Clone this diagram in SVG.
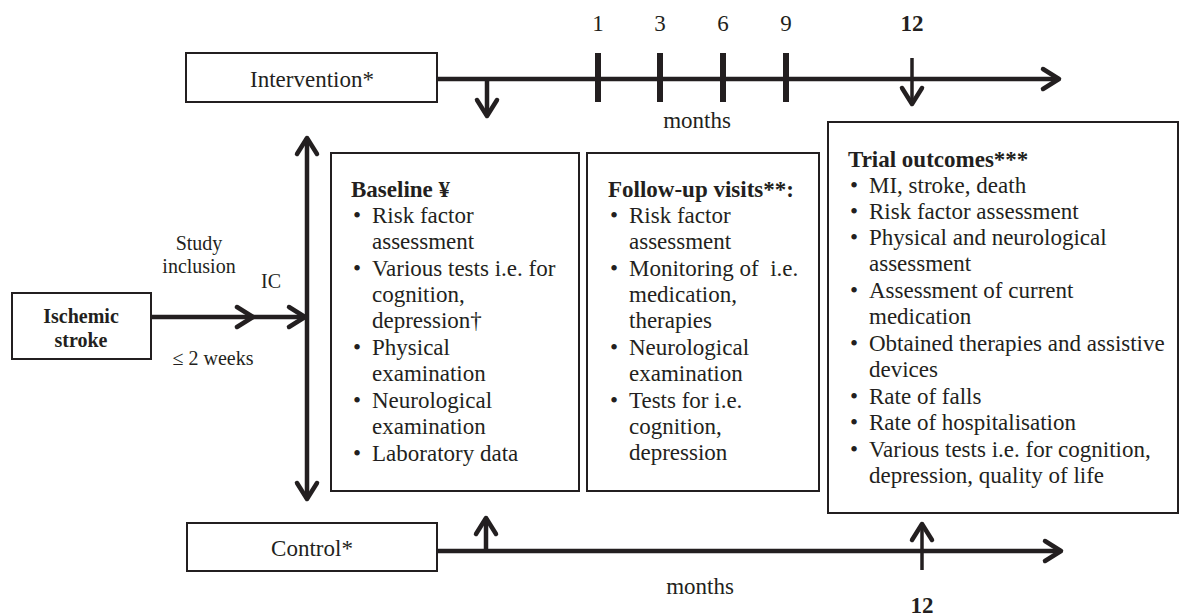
<svg xmlns="http://www.w3.org/2000/svg" width="1182" height="616" viewBox="0 0 1182 616">
<style>
.box{fill:#fff;stroke:#231f20;stroke-width:2}
.t{font-family:"Liberation Serif","Times New Roman",serif;font-size:23px;fill:#231f20}
.s{font-family:"Liberation Serif","Times New Roman",serif;font-size:20px;fill:#231f20}
.b{font-weight:bold}
.m{text-anchor:middle}
.ln{fill:none;stroke:#231f20;stroke-width:4.5}
.thin{fill:none;stroke:#231f20;stroke-width:3.5}
.hd{fill:none;stroke:#231f20;stroke-width:4.5;stroke-linecap:round;stroke-linejoin:round}
.tick{stroke:#231f20;stroke-width:6}
</style>
<rect width="1182" height="616" fill="#fff"/>
<g id="connectors">
  <line class="ln" x1="151" y1="317" x2="306" y2="317"/>
  <polyline class="hd" points="237,307 253,317 237,327"/>
  <polyline class="hd" points="289,307 305,317 289,327"/>
  <line class="ln" x1="307" y1="138" x2="307" y2="499"/>
  <polyline class="hd" points="297,154 307,138 317,154"/>
  <polyline class="hd" points="297,483 307,499 317,483"/>
  <line class="ln" x1="437" y1="79" x2="1059" y2="79"/>
  <polyline class="hd" points="1043,69 1059,79 1043,89"/>
  <line class="ln" x1="487" y1="79" x2="487" y2="116"/>
  <polyline class="hd" points="477,100 487,116 497,100"/>
  <line class="tick" x1="598" y1="53" x2="598" y2="102"/>
  <line class="tick" x1="660" y1="53" x2="660" y2="102"/>
  <line class="tick" x1="723" y1="53" x2="723" y2="102"/>
  <line class="tick" x1="786" y1="53" x2="786" y2="102"/>
  <line class="thin" x1="912" y1="58" x2="912" y2="104"/>
  <polyline class="hd" points="902,88 912,104 922,88"/>
  <line class="ln" x1="437" y1="551" x2="1061" y2="551"/>
  <polyline class="hd" points="1045,541 1061,551 1045,561"/>
  <line class="ln" x1="486" y1="551" x2="486" y2="518"/>
  <polyline class="hd" points="476,534 486,518 496,534"/>
  <line class="thin" x1="922" y1="570" x2="922" y2="524"/>
  <polyline class="hd" points="912,540 922,524 932,540"/>
</g>
<g id="labels">
  <text class="t m" x="598" y="31">1</text>
  <text class="t m" x="660" y="31">3</text>
  <text class="t m" x="723" y="31">6</text>
  <text class="t m" x="786" y="31">9</text>
  <text class="t m b" x="912" y="31">12</text>
  <text class="t m" x="697" y="128">months</text>
  <text class="t m" x="700" y="594">months</text>
  <text class="t m b" x="922" y="613">12</text>
  <text class="s m" x="199" y="250">Study</text>
  <text class="s m" x="199" y="273">inclusion</text>
  <text class="s m" x="271" y="288">IC</text>
  <text class="s m" x="213" y="365">≤ 2 weeks</text>
</g>
<g id="intervention">
  <rect class="box" x="186" y="53" width="251" height="49"/>
  <text class="t m" x="312" y="87">Intervention*</text>
</g>
<g id="control">
  <rect class="box" x="187" y="523" width="250" height="48"/>
  <text class="t m" x="312" y="556">Control*</text>
</g>
<g id="ischemic">
  <rect class="box" x="12" y="293" width="139" height="66"/>
  <text class="s m b" x="81" y="323">Ischemic</text>
  <text class="s m b" x="81" y="347">stroke</text>
</g>
<g id="baseline">
  <rect class="box" x="331" y="153" width="248" height="338"/>
  <text class="t b" x="351" y="197">Baseline ¥</text>
  <text class="t" x="353" y="223">•</text><text class="t" x="372" y="223">Risk factor</text>
  <text class="t" x="372" y="249">assessment</text>
  <text class="t" x="353" y="276">•</text><text class="t" x="372" y="276">Various tests i.e. for</text>
  <text class="t" x="372" y="302">cognition,</text>
  <text class="t" x="372" y="328">depression†</text>
  <text class="t" x="353" y="355">•</text><text class="t" x="372" y="355">Physical</text>
  <text class="t" x="372" y="381">examination</text>
  <text class="t" x="353" y="408">•</text><text class="t" x="372" y="408">Neurological</text>
  <text class="t" x="372" y="434">examination</text>
  <text class="t" x="353" y="461">•</text><text class="t" x="372" y="461">Laboratory data</text>
</g>
<g id="followup">
  <rect class="box" x="587" y="153" width="232" height="338"/>
  <text class="t b" x="608" y="197">Follow-up visits**:</text>
  <text class="t" x="610" y="223">•</text><text class="t" x="629" y="223">Risk factor</text>
  <text class="t" x="629" y="249">assessment</text>
  <text class="t" x="610" y="276">•</text><text class="t" x="629" y="276" xml:space="preserve">Monitoring of  i.e.</text>
  <text class="t" x="629" y="302">medication,</text>
  <text class="t" x="629" y="328">therapies</text>
  <text class="t" x="610" y="355">•</text><text class="t" x="629" y="355">Neurological</text>
  <text class="t" x="629" y="381">examination</text>
  <text class="t" x="610" y="408">•</text><text class="t" x="629" y="408">Tests for i.e.</text>
  <text class="t" x="629" y="434">cognition,</text>
  <text class="t" x="629" y="460">depression</text>
</g>
<g id="outcomes">
  <rect class="box" x="828" y="122" width="350" height="391"/>
  <text class="t b" x="848" y="167">Trial outcomes***</text>
  <text class="t" x="850" y="193">•</text><text class="t" x="869" y="193">MI, stroke, death</text>
  <text class="t" x="850" y="219">•</text><text class="t" x="869" y="219">Risk factor assessment</text>
  <text class="t" x="850" y="245">•</text><text class="t" x="869" y="245">Physical and neurological</text>
  <text class="t" x="869" y="271">assessment</text>
  <text class="t" x="850" y="298">•</text><text class="t" x="869" y="298">Assessment of current</text>
  <text class="t" x="869" y="324">medication</text>
  <text class="t" x="850" y="351">•</text><text class="t" x="869" y="351">Obtained therapies and assistive</text>
  <text class="t" x="869" y="377">devices</text>
  <text class="t" x="850" y="404">•</text><text class="t" x="869" y="404">Rate of falls</text>
  <text class="t" x="850" y="430">•</text><text class="t" x="869" y="430">Rate of hospitalisation</text>
  <text class="t" x="850" y="457">•</text><text class="t" x="869" y="457">Various tests i.e. for cognition,</text>
  <text class="t" x="869" y="483">depression, quality of life</text>
</g>
</svg>
